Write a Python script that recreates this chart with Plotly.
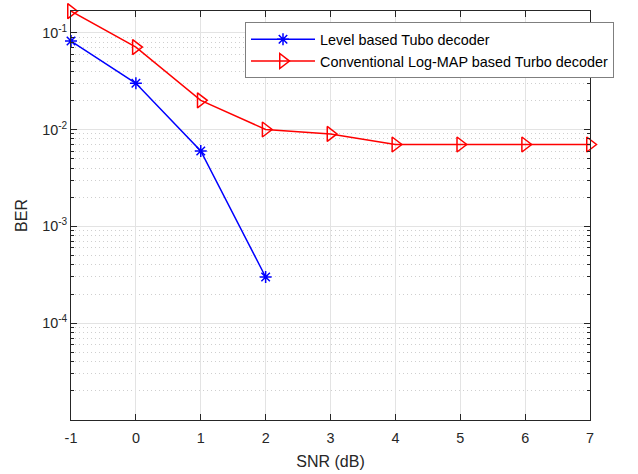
import plotly.graph_objects as go
import numpy as np

snr_level = [-1, 0, 1, 2]
ber_level = [0.082, 0.030, 0.006, 0.0003]

snr_conv = [-1, 0, 1, 2, 3, 4, 5, 6, 7]
ber_conv = [0.167, 0.071, 0.020, 0.010, 0.009, 0.007, 0.007, 0.007, 0.007]

x_ticks = [-1, 0, 1, 2, 3, 4, 5, 6, 7]
y_ticks = [1e-4, 1e-3, 1e-2, 1e-1]
y_tick_text = ["10<sup>-4</sup>", "10<sup>-3</sup>", "10<sup>-2</sup>", "10<sup>-1</sup>"]

FONT = "Liberation Sans, Arial, Helvetica, sans-serif"

fig = go.Figure()
fig.add_trace(go.Scatter(
    x=snr_level, y=ber_level, mode="lines+markers",
    name="Level based Tubo decoder",
    line=dict(color="#0000ff", width=1.5),
    marker=dict(symbol="asterisk-open", size=10, color="#0000ff", line=dict(color="#0000ff", width=1.5)),
    cliponaxis=False,
))
fig.add_trace(go.Scatter(
    x=snr_conv, y=ber_conv, mode="lines+markers",
    name="Conventional Log-MAP based Turbo decoder",
    line=dict(color="#ff0000", width=1.5),
    marker=dict(symbol="triangle-right-open", size=13, color="#ff0000", line=dict(color="#ff0000", width=1.5)),
    cliponaxis=False,
))

tick_font = dict(family=FONT, size=14.4, color="#262626")
title_font = dict(family=FONT, size=16, color="#262626")

fig.update_layout(
    width=638, height=474,
    margin=dict(l=71, r=48, t=11, b=54),
    paper_bgcolor="white", plot_bgcolor="white",
    font=tick_font,
    showlegend=True,
    legend=dict(
        x=(245 - 71) / 519, y=0.972, xanchor="left", yanchor="top",
        bgcolor="white", bordercolor="#7f7f7f", borderwidth=1,
        font=dict(family=FONT, size=14.4, color="#000000"),
        itemwidth=64,
    ),
    xaxis=dict(
        range=[-1, 7], tickvals=x_ticks, ticktext=[str(v) for v in x_ticks],
        showgrid=True, gridcolor="#e3e3e3", gridwidth=1,
        showline=True, linecolor="#262626", linewidth=1, mirror="ticks",
        ticks="inside", ticklen=6, tickcolor="#262626", tickwidth=1,
        ticklabelstandoff=5,
        zeroline=False, automargin=False,
        title=dict(text="SNR (dB)", font=title_font, standoff=10),
        tickfont=tick_font,
    ),
    yaxis=dict(
        type="log", range=[-5, np.log10(0.1675)],
        tickvals=y_ticks, ticktext=y_tick_text,
        showgrid=True, gridcolor="#e3e3e3", gridwidth=1,
        showline=True, linecolor="#262626", linewidth=1, mirror="ticks",
        ticks="inside", ticklen=6, tickcolor="#262626", tickwidth=1,
        minor=dict(
            tickvals=[m * 10.0**e for e in range(-5, 0) for m in range(2, 10)],
            ticks="inside", ticklen=3, tickcolor="#262626",
            showgrid=True, gridcolor="#cfcfcf", griddash="1px,3px", gridwidth=1,
        ),
        zeroline=False, automargin=False,
        title=dict(text="BER", font=title_font, standoff=10),
        tickfont=tick_font,
    ),
)

fig.write_html(
    "out.html",
    config={"displayModeBar": False},
    post_script="document.body.style.margin='0';document.body.style.padding='0';",
)
